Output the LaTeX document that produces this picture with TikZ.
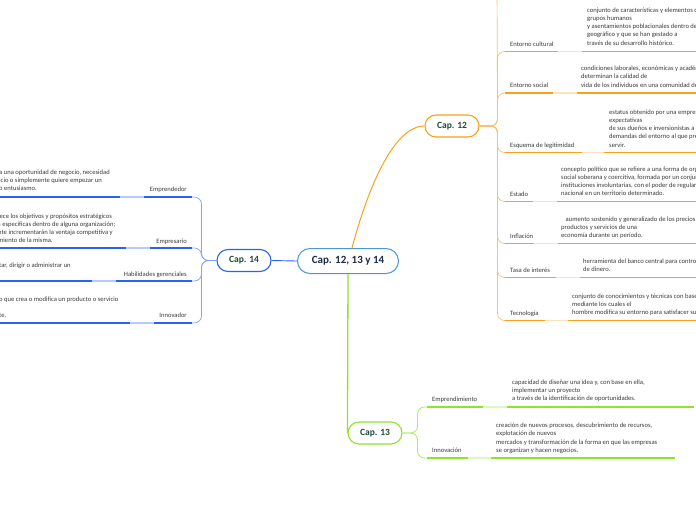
\documentclass[tikz,border=0pt]{standalone}
\usepackage{fontspec}
\setmainfont{Carlito}
\definecolor{orgA}{HTML}{F9A11B}
\definecolor{orgB}{HTML}{FBC06A}
\definecolor{orgL}{HTML}{FDE3BC}
\definecolor{bluA}{HTML}{2A62F5}
\definecolor{bluB}{HTML}{7EA2FF}
\definecolor{bluL}{HTML}{B7CAFF}
\definecolor{grnA}{HTML}{8FE22D}
\definecolor{grnB}{HTML}{A9EE66}
\definecolor{grnL}{HTML}{DDF8C4}
\definecolor{cenB}{HTML}{4A97D8}
\definecolor{txtG}{HTML}{3A3A3A}
\definecolor{capT}{HTML}{1E4A38}
\definecolor{cenT}{HTML}{1B2B4B}
\newcommand\dfont{\fontsize{6.6}{8.2}\selectfont}
\begin{document}
\begin{tikzpicture}[x=1pt,y=-1pt,
  lbl/.style={font=\dfont, text=txtG, inner sep=0, anchor=base west},
  lblr/.style={lbl, anchor=base east},
  desc/.style={font=\dfont, text=txtG, inner sep=0, align=left, anchor=north west},
  capbox/.style={rounded corners=11pt, minimum width=54pt, minimum height=22pt, inner sep=0,
    font=\fontsize{9.5}{10}\selectfont\bfseries, text=capT, fill=white, line width=1.1pt, draw},
  cenbox/.style={rounded corners=12.5pt, minimum width=101pt, minimum height=25pt, inner sep=0,
    font=\fontsize{11}{12}\selectfont\bfseries, text=cenT, fill=white, line width=1pt, draw=cenB},
  obr/.style={orgB, line width=0.7pt, rounded corners=7pt},
  oul/.style={orgA, line width=1.8pt},
  oll/.style={orgL, line width=1.8pt},
  bbr/.style={bluB, line width=0.7pt, rounded corners=7pt},
  bul/.style={bluA, line width=1.8pt},
  bll/.style={bluL, line width=1.8pt},
  gbr/.style={grnB, line width=0.8pt, rounded corners=7pt},
  gul/.style={grnA, line width=1.8pt},
  gll/.style={grnL, line width=1.8pt}]
\useasboundingbox (0,0) rectangle (696,520);
\clip (0,0) rectangle (696,520);

% main nodes
\node[cenbox] (cen) at (348,261) {Cap. 12, 13 y 14};
\node[capbox, draw=bluA] (c14) at (244,260.5) {Cap. 14};
\node[capbox, draw=orgA] (c12) at (452,126) {Cap. 12};
\node[capbox, draw=grnA] (c13) at (375,433) {Cap. 13};

% main connectors
\draw[bluA, line width=0.9pt] (cen.west) -- (c14.east);
\draw[orgA, line width=1pt] ([xshift=4pt]cen.north) .. controls (366,195) and (392,126) .. (c12.west);
\draw[grnA, line width=1.3pt] (cen.south) -- (c13.west);

% ---------- Cap. 12 branches ----------
\coordinate (rtop) at (497,-20);
\coordinate (r1) at (505,51.5);
\coordinate (r2) at (505,93);
\coordinate (r3) at (505,152.5);
\coordinate (r4) at (505,201.5);
\coordinate (r5) at (505,243.5);
\coordinate (r6) at (505,277.5);
\coordinate (r7) at (505,320.5);
\draw[obr] (c12.east) -- ++(18,0) -- (rtop);
\foreach \r in {r1,r2,r3,r4,r5,r6,r7} {\draw[obr] (c12.east) -- ++(18,0) |- (\r);}
\draw[oul] (r1) -- (700,51.5);  \draw[oll] (558,51.5) -- (582,51.5);
\draw[oul] (r2) -- (700,93);    \draw[oll] (553,93) -- (577,93);
\draw[oul] (r3) -- (700,152.5); \draw[oll] (582,152.5) -- (604,152.5);
\draw[oul] (r4) -- (700,201.5); \draw[oll] (533,201.5) -- (557,201.5);
\draw[oul] (r5) -- (700,243.5); \draw[oll] (534,243.5) -- (558,243.5);
\draw[oul] (r6) -- (700,277.5); \draw[oll] (556,277.5) -- (580,277.5);
\draw[oul] (r7) -- (700,320.5); \draw[oll] (545,320.5) -- (568,320.5);

\node[lbl] (l1) at (510,46) {Entorno cultural};
\node[lbl] (l2) at (510,87.5) {Entorno social};
\node[lbl] (l3) at (510,147) {Esquema de legitimidad};
\node[lbl] (l4) at (510,196) {Estado};
\node[lbl] (l5) at (510,238) {Inflación};
\node[lbl] (l6) at (510,272) {Tasa de interés};
\node[lbl] (l7) at (510,315) {Tecnología};

\node[desc] (d1) at (587,7.5) {conjunto de características y elementos de\\grupos humanos\\y asentamientos poblacionales dentro del\\geográfico y que se han gestado a\\través de su desarrollo histórico.};
\node[desc] (d2) at (581,66) {condiciones laborales, económicas y académicas\\determinan la calidad de\\vida de los individuos en una comunidad de};
\node[desc] (d3) at (609,109.5) {estatus obtenido por una empresa\\expectativas\\de sus dueños e inversionistas a\\demandas del entorno al que pretende\\servir.};
\node[desc] (d4) at (561,166.5) {concepto político que se refiere a una forma de organización\\social soberana y coercitiva, formada por un conjunto de\\instituciones involuntarias, con el poder de regular\\nacional en un territorio determinado.};
\node[desc] (d5) at (561,216.5) {\hspace*{4.5pt}aumento sostenido y generalizado de los precios de\\productos y servicios de una\\economía durante un período.};
\node[desc] (d6) at (583,258.8) {herramienta del banco central para controlar\\de dinero.};
\node[desc] (d7) at (572,293.5) {conjunto de conocimientos y técnicas con base\\mediante los cuales el\\hombre modifica su entorno para satisfacer sus};

% ---------- Cap. 14 branches ----------
\coordinate (b1) at (192,197);
\coordinate (b2) at (192,248);
\coordinate (b3) at (192,281);
\coordinate (b4) at (192,323);
\foreach \b in {b1,b2,b3,b4} {\draw[bbr] (c14.west) -- ++(-15,0) |- (\b);}
\draw[bul] (b1) -- (-5,197); \draw[bll] (120,197) -- (144,197);
\draw[bul] (b2) -- (-5,248); \draw[bll] (126,248) -- (150,248);
\draw[bul] (b3) -- (-5,281); \draw[bll] (92,281) -- (116,281);
\draw[bul] (b4) -- (-5,323); \draw[bll] (130,323) -- (154,323);

\node[lblr] (k1) at (187,191) {Emprendedor};
\node[lblr] (k2) at (187,243) {Empresario};
\node[lblr] (k3) at (187,276) {Habilidades gerenciales};
\node[lblr] (k4) at (187,317) {Innovador};

\node[desc] (e1) at (-1,169.5) {a una oportunidad de negocio, necesidad\\icio o simplemente quiere empezar un\\o entusiasmo.};
\node[desc] (e2) at (-2,213.5) {lece los objetivos y propósitos estratégicos\\s específicas dentro de alguna organización;\\nte incrementarán la ventaja competitiva y\\miento de la misma.};
\node[lbl] (e3) at (-1,267.6) {tar, dirigir o administrar un};
\node[lbl] (e4a) at (-1,301) {o que crea o modifica un producto o servicio};
\node[lbl] (e4b) at (-1,317) {te.};

% ---------- Cap. 13 branches ----------
\coordinate (g1) at (427,407);
\coordinate (g2) at (427,458);
\foreach \g in {g1,g2} {\draw[gbr] (c13.east) -- ++(15,0) |- (\g);}
\draw[gul] (g1) -- (694,407); \draw[gll] (483,407) -- (507,407);
\draw[gul] (g2) -- (675,458); \draw[gll] (468,458) -- (491,458);

\node[lbl] (m1) at (432,401) {Emprendimiento};
\node[lbl] (m2) at (432,452.5) {Innovación};
\node[desc] (n1) at (512,379.5) {capacidad de diseñar una idea y, con base en ella,\\implementar un proyecto\\a través de la identificación de oportunidades.};
\node[desc] (n2) at (496,423) {creación de nuevos procesos, descubrimiento de recursos,\\explotación de nuevos\\mercados y transformación de la forma en que las empresas\\se organizan y hacen negocios.};
\end{tikzpicture}
\end{document}
